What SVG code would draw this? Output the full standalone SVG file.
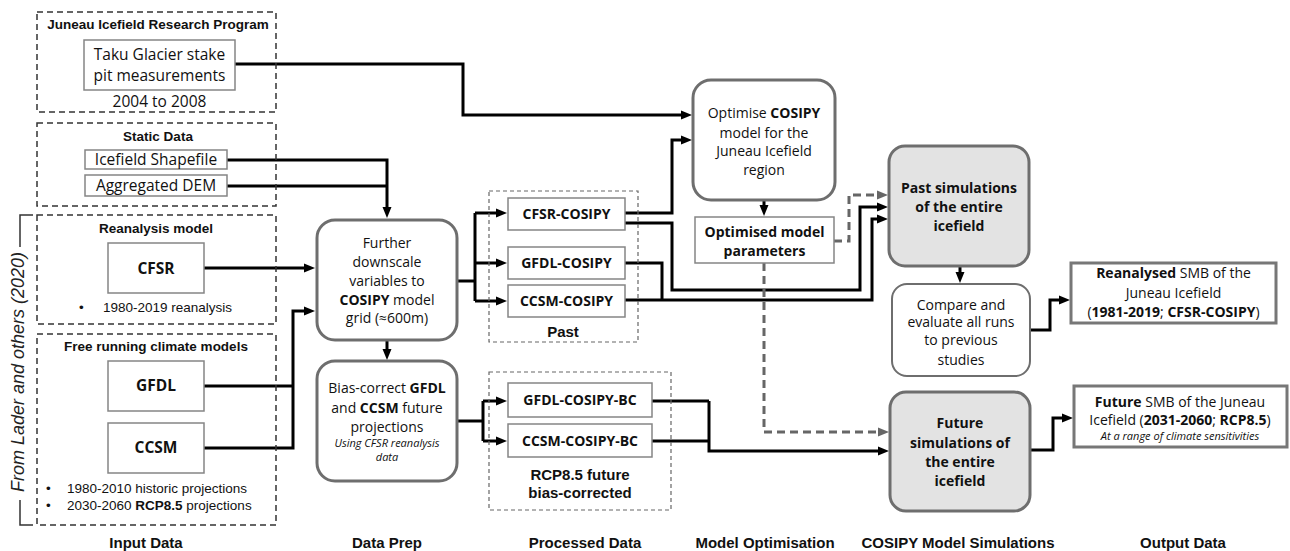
<svg xmlns="http://www.w3.org/2000/svg" width="1290" height="551" viewBox="0 0 1290 551">
<style>
.dash{fill:none;stroke:#333;stroke-width:1.5;stroke-dasharray:6,4}
.pdash{fill:none;stroke:#666;stroke-width:1.2;stroke-dasharray:4,3}
.box{fill:#fff;stroke:#858585;stroke-width:1.5}
.rbox{fill:#fff;stroke:#6e6e6e;stroke-width:3}
.gbox{fill:#e3e3e3;stroke:#6e6e6e;stroke-width:3}
.obox{fill:#fff;stroke:#777;stroke-width:3}
.hd{font-family:"Liberation Sans",Arial,sans-serif;font-weight:bold;font-size:13.5px;fill:#111;text-anchor:middle}
.ar{font-family:"Liberation Sans",Arial,sans-serif;font-size:13.5px;fill:#111}
.lb{font-family:"Liberation Sans",Arial,sans-serif;font-weight:bold;font-size:15px;fill:#111;text-anchor:middle}
.t{font-family:"Open Sans","Liberation Sans",sans-serif;font-size:14px;fill:#111;text-anchor:middle}
.tl{font-family:"Open Sans","Liberation Sans",sans-serif;font-size:15.5px;fill:#111;text-anchor:middle}
.sm{font-family:"Open Sans","Liberation Sans",sans-serif;font-size:11px;font-style:italic;fill:#111;text-anchor:middle}
.b{font-weight:bold}
.c{fill:none;stroke:#000;stroke-width:3}
.ca{fill:none;stroke:#000;stroke-width:3;marker-end:url(#ah)}
.dc{fill:none;stroke:#666;stroke-width:3;stroke-dasharray:8,5;marker-end:url(#ahg)}
</style>
<defs>
<marker id="ah" markerUnits="userSpaceOnUse" markerWidth="12" markerHeight="10" refX="6" refY="5" orient="auto"><path d="M0,0.5 L11,5 L0,9.5 z" fill="#000"/></marker>
<marker id="ahg" markerUnits="userSpaceOnUse" markerWidth="12" markerHeight="10" refX="6" refY="5" orient="auto"><path d="M0,0.5 L11,5 L0,9.5 z" fill="#666"/></marker>
</defs>
<rect width="1290" height="551" fill="#fff"/>

<g id="connectors">
<path class="ca" d="M235,64 H463 V115 H687"/>
<path class="ca" d="M227,160 H387 V213"/>
<path class="c" d="M227,186 H387"/>
<path class="ca" d="M204,268 H310"/>
<path class="c" d="M204,386 H293"/>
<path class="ca" d="M204,448 H293 V311 H310"/>
<path class="c" d="M457,281 H475"/>
<path class="c" d="M475,213 V301"/>
<path class="ca" d="M475,213 H502"/>
<path class="ca" d="M475,263 H502"/>
<path class="ca" d="M475,301 H502"/>
<path class="ca" d="M387,340 V355"/>
<path class="c" d="M457,421 H483"/>
<path class="c" d="M483,401 V441"/>
<path class="ca" d="M483,401 H502"/>
<path class="ca" d="M483,441 H502"/>
<path class="ca" d="M625,213 H672 V140 H687"/>
<path class="ca" d="M625,223 H672 V290 H860 V207 H883"/>
<path class="c" d="M625,263 H662 V300"/>
<path class="ca" d="M625,300 H872 V219 H883"/>
<path class="ca" d="M764,200 V211"/>
<path class="dc" d="M834,241 H849 V195 H883"/>
<path class="dc" d="M764,263 V432 H884"/>
<path class="c" d="M652,401 H709"/>
<path class="ca" d="M652,441 H709 M709,401 V451 H884"/>
<path class="ca" d="M960,266 V278"/>
<path class="ca" d="M1030,330 H1050 V300 H1065"/>
<path class="ca" d="M1030,450 H1053 V418 H1068"/>
</g>

<g id="lader">
<path d="M33,215 H20 V247" fill="none" stroke="#333" stroke-width="1.5"/>
<path d="M20,500 V525 H33" fill="none" stroke="#333" stroke-width="1.5"/>
<text transform="translate(24,372) rotate(-90)" text-anchor="middle" font-family="Liberation Sans, Arial, sans-serif" font-size="18" font-style="italic" fill="#222">From Lader and others (2020)</text>
</g>

<g id="jirp">
<rect class="dash" x="37" y="12" width="239" height="100"/>
<text class="hd" x="158" y="29">Juneau Icefield Research Program</text>
</g>
<g id="taku">
<rect class="box" x="84" y="40" width="151" height="50"/>
<text class="tl" x="159.5" y="60" font-size="16">Taku Glacier stake</text>
<text class="tl" x="159.5" y="81" font-size="16">pit measurements</text>
<text class="tl" x="159.5" y="107" font-size="16">2004 to 2008</text>
</g>

<g id="static">
<rect class="dash" x="37" y="123" width="239" height="83"/>
<text class="hd" x="158" y="141">Static Data</text>
</g>
<g id="shapefile">
<rect class="box" x="85" y="150" width="142" height="19"/>
<text class="tl" x="156" y="165">Icefield Shapefile</text>
</g>
<g id="dem">
<rect class="box" x="85" y="175" width="142" height="21"/>
<text class="tl" x="156" y="191">Aggregated DEM</text>
</g>

<g id="reanalysis">
<rect class="dash" x="37" y="215" width="239" height="109"/>
<text class="hd" x="156" y="233">Reanalysis model</text>
<text class="ar" x="79" y="312">•</text>
<text class="ar" x="103" y="312">1980-2019 reanalysis</text>
</g>
<g id="cfsr">
<rect class="box" x="108" y="243" width="96" height="50"/>
<text class="tl b" x="156" y="273.5">CFSR</text>
</g>

<g id="freerunning">
<rect class="dash" x="37" y="334" width="239" height="191"/>
<text class="hd" x="156" y="351">Free running climate models</text>
<text class="ar" x="46" y="493">•</text>
<text class="ar" x="67" y="493">1980-2010 historic projections</text>
<text class="ar" x="46" y="510">•</text>
<text class="ar" x="67" y="510">2030-2060 <tspan font-weight="bold">RCP8.5</tspan> projections</text>
</g>
<g id="gfdl">
<rect class="box" x="108" y="361" width="96" height="50"/>
<text class="tl b" x="156" y="391">GFDL</text>
</g>
<g id="ccsm">
<rect class="box" x="108" y="423" width="96" height="50"/>
<text class="tl b" x="156" y="453">CCSM</text>
</g>

<g id="downscale">
<rect class="rbox" x="317" y="220" width="140" height="120" rx="18"/>
<text class="t" x="387" y="248">Further</text>
<text class="t" x="387" y="267">downscale</text>
<text class="t" x="387" y="286">variables to</text>
<text class="t" x="387" y="305"><tspan class="b">COSIPY</tspan> model</text>
<text class="t" x="387" y="323">grid (≈600m)</text>
</g>
<g id="biascorrect">
<rect class="rbox" x="317" y="361" width="140" height="120" rx="18"/>
<text class="t" x="387" y="393">Bias-correct <tspan class="b">GFDL</tspan></text>
<text class="t" x="387" y="413">and <tspan class="b">CCSM</tspan> future</text>
<text class="t" x="387" y="432">projections</text>
<text class="sm" x="387" y="447">Using CFSR reanalysis</text>
<text class="sm" x="387" y="461">data</text>
</g>

<g id="past">
<rect class="pdash" x="489" y="191" width="149" height="151"/>
<text class="lb" x="563" y="337">Past</text>
</g>
<g id="cfsr-cosipy">
<rect class="box" x="508" y="198" width="117" height="32"/>
<text class="t b" x="566.5" y="219" font-size="14.5">CFSR-COSIPY</text>
</g>
<g id="gfdl-cosipy">
<rect class="box" x="508" y="247" width="117" height="32"/>
<text class="t b" x="566.5" y="268" font-size="14.5">GFDL-COSIPY</text>
</g>
<g id="ccsm-cosipy">
<rect class="box" x="508" y="285" width="117" height="32"/>
<text class="t b" x="566.5" y="306" font-size="14.5">CCSM-COSIPY</text>
</g>

<g id="rcp">
<rect class="pdash" x="489" y="372" width="182" height="138"/>
<text class="lb" x="580" y="480">RCP8.5 future</text>
<text class="lb" x="580" y="498">bias-corrected</text>
</g>
<g id="gfdl-bc">
<rect class="box" x="508" y="383" width="144" height="34"/>
<text class="t b" x="580" y="405" font-size="14.5">GFDL-COSIPY-BC</text>
</g>
<g id="ccsm-bc">
<rect class="box" x="508" y="424" width="144" height="33"/>
<text class="t b" x="580" y="446" font-size="14.5">CCSM-COSIPY-BC</text>
</g>

<g id="optimise">
<rect class="rbox" x="693" y="80" width="142" height="120" rx="18"/>
<text class="t" x="764" y="118">Optimise <tspan class="b">COSIPY</tspan></text>
<text class="t" x="764" y="138">model for the</text>
<text class="t" x="764" y="156">Juneau Icefield</text>
<text class="t" x="764" y="175">region</text>
</g>
<g id="params">
<rect class="box" x="695" y="217" width="139" height="46"/>
<text class="t b" x="764.5" y="237">Optimised model</text>
<text class="t b" x="764.5" y="256">parameters</text>
</g>

<g id="pastsim">
<rect class="gbox" x="889" y="146" width="140" height="120" rx="16"/>
<text class="t b" x="959" y="193">Past simulations</text>
<text class="t b" x="959" y="212">of the entire</text>
<text class="t b" x="959" y="231">icefield</text>
</g>
<g id="compare">
<rect x="892" y="284" width="138" height="92" rx="15" fill="#fff" stroke="#6e6e6e" stroke-width="2"/>
<text class="t" x="961" y="310">Compare and</text>
<text class="t" x="961" y="327">evaluate all runs</text>
<text class="t" x="961" y="345">to previous</text>
<text class="t" x="961" y="365">studies</text>
</g>
<g id="futuresim">
<rect class="gbox" x="890" y="392" width="140" height="119" rx="16"/>
<text class="t b" x="960" y="428">Future</text>
<text class="t b" x="960" y="448">simulations of</text>
<text class="t b" x="960" y="467">the entire</text>
<text class="t b" x="960" y="486">icefield</text>
</g>

<g id="reanalysed">
<rect class="obox" x="1071" y="263" width="205" height="60"/>
<text class="t" x="1173.5" y="278"><tspan class="b">Reanalysed</tspan> SMB of the</text>
<text class="t" x="1173.5" y="298">Juneau Icefield</text>
<text class="t" x="1173.5" y="317">(<tspan class="b">1981-2019</tspan>; <tspan class="b">CFSR-COSIPY</tspan>)</text>
</g>
<g id="futuresmb">
<rect class="obox" x="1074" y="386" width="213" height="61"/>
<text class="t" x="1180" y="407"><tspan class="b">Future</tspan> SMB of the Juneau</text>
<text class="t" x="1180" y="425">Icefield (<tspan class="b">2031-2060</tspan>; <tspan class="b">RCP8.5</tspan>)</text>
<text class="sm" x="1180" y="440">At a range of climate sensitivities</text>
</g>

<g id="labels">
<text class="lb" x="146" y="548">Input Data</text>
<text class="lb" x="387" y="548">Data Prep</text>
<text class="lb" x="585" y="548">Processed Data</text>
<text class="lb" x="765" y="548">Model Optimisation</text>
<text class="lb" x="958" y="548">COSIPY Model Simulations</text>
<text class="lb" x="1183" y="548">Output Data</text>
</g>
</svg>
